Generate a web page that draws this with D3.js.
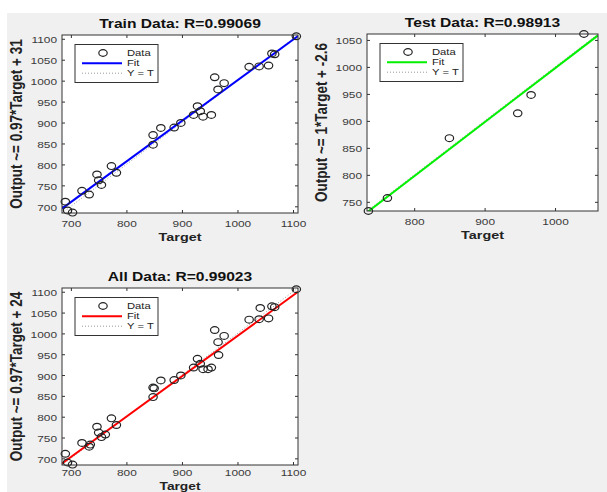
<!DOCTYPE html>
<html>
<head>
<meta charset="utf-8">
<script src="https://cdn.jsdelivr.net/npm/d3@7"></script>
<style>
  html, body { margin: 0; padding: 0; background: #ffffff; }
  svg { display: block; }
</style>
</head>
<body>
<svg id="chart" width="607" height="492"></svg>
<script>
// ---------------- data ----------------
const trainTarget = [690, 694, 703, 720, 733, 747, 750, 755, 773, 782, 848, 848, 862, 886, 898, 921, 928, 933, 938, 953, 959, 965, 976, 1021, 1039, 1056, 1062, 1067, 1106];
const trainOutput = [711, 690, 685, 737, 728, 776, 762, 751, 796, 780, 870, 847, 887, 888, 899, 918, 939, 927, 914, 918, 1008, 979, 994, 1033, 1034, 1036, 1065, 1063, 1106];
const testTarget = [735, 762, 850, 947, 966, 1041];
const testOutput = [733, 757, 868, 914, 948, 1061];
const allTarget = trainTarget.concat(testTarget);
const allOutput = trainOutput.concat(testOutput);

const trainFit = [0.97, 31];   // slope, intercept
const testFit = [1.0, -2.6];
const allFit = [0.97, 24];

const titles = ["Train Data: R=0.99069", "Test Data: R=0.98913", "All Data: R=0.99023"];
const yLabels = ["Output ~= 0.97*Target + 31", "Output ~= 1*Target + -2.6", "Output ~= 0.97*Target + 24"];
const xLabel = "Target";
const legendLabels = ["Data", "Fit", "Y = T"];

const ticksTrain = [700, 800, 900, 1000, 1100];
const ticksTrainY = [700, 750, 800, 850, 900, 950, 1000, 1050, 1100];
const ticksTest = [800, 900, 1000];
const ticksTestY = [750, 800, 850, 900, 950, 1000, 1050];

const domainTrain = [684, 1109];
const domainTest = [733, 1061];

// ---------------- drawing ----------------
const svg = d3.select("#chart");
const SX = 1.25; // horizontal stretch of the reference image text
const FONT = "'Liberation Sans', Arial, sans-serif";

svg.append("rect").attr("x", 7).attr("y", 13).attr("width", 600).attr("height", 479).attr("fill", "#f0f0f0");

function stretchText(sel, x, y, anchor) {
  sel.attr("x", null).attr("y", null)
     .attr("text-anchor", anchor)
     .attr("transform", `translate(${x},${y}) scale(${SX},1)`);
}

function panel(cfg) {
  const x = d3.scaleLinear().domain(cfg.domain).range([cfg.left, cfg.right]);
  const y = d3.scaleLinear().domain(cfg.domain).range([cfg.bottom, cfg.top]);
  const g = svg.append("g");

  g.append("rect")
    .attr("x", cfg.left).attr("y", cfg.top)
    .attr("width", cfg.right - cfg.left).attr("height", cfg.bottom - cfg.top)
    .attr("fill", "#ffffff");

  // axes
  const styleAxis = (ax) => {
    ax.select(".domain").remove();
    ax.selectAll(".tick line").attr("stroke", "#333").attr("stroke-width", 1);
  };
  const bx = g.append("g").attr("transform", `translate(0,${cfg.bottom})`)
    .call(d3.axisBottom(x).tickValues(cfg.ticksX).tickSize(-3).tickFormat(d3.format("d")));
  styleAxis(bx);
  bx.selectAll(".tick text").each(function () {
    const t = d3.select(this);
    t.attr("font-family", FONT).attr("font-size", 9.5).attr("fill", "#3a3a3a")
      .attr("dy", null);
    stretchText(t, 0, cfg.tickOff, "middle");
  });
  const lx = g.append("g").attr("transform", `translate(${cfg.left},0)`)
    .call(d3.axisLeft(y).tickValues(cfg.ticksY).tickSize(-3).tickFormat(d3.format("d")));
  styleAxis(lx);
  lx.selectAll(".tick text").each(function () {
    const t = d3.select(this);
    t.attr("font-family", FONT).attr("font-size", 9.5).attr("fill", "#3a3a3a")
      .attr("dy", null).attr("dominant-baseline", "central");
    stretchText(t, -5, 0.5, "end");
  });
  const tx = g.append("g").attr("transform", `translate(0,${cfg.top})`)
    .call(d3.axisTop(x).tickValues(cfg.ticksX).tickSize(-3).tickFormat(""));
  styleAxis(tx);
  const rx = g.append("g").attr("transform", `translate(${cfg.right},0)`)
    .call(d3.axisRight(y).tickValues(cfg.ticksY).tickSize(-3).tickFormat(""));
  styleAxis(rx);

  // clip
  const clipId = "clip" + cfg.id;
  svg.append("clipPath").attr("id", clipId).append("rect")
    .attr("x", cfg.left).attr("y", cfg.top)
    .attr("width", cfg.right - cfg.left).attr("height", cfg.bottom - cfg.top);
  const plot = g.append("g").attr("clip-path", `url(#${clipId})`);

  // Y = T line
  plot.append("line")
    .attr("x1", x(cfg.domain[0])).attr("y1", y(cfg.domain[0]))
    .attr("x2", x(cfg.domain[1])).attr("y2", y(cfg.domain[1]))
    .attr("stroke", "#999").attr("stroke-width", 1).attr("stroke-dasharray", "1,2");

  // fit line
  const f = v => cfg.fit[0] * v + cfg.fit[1];
  plot.append("line")
    .attr("x1", x(cfg.domain[0])).attr("y1", y(f(cfg.domain[0])))
    .attr("x2", x(cfg.domain[1])).attr("y2", y(f(cfg.domain[1])))
    .attr("stroke", cfg.color).attr("stroke-width", 2);

  // data
  const pts = cfg.t.map((d, i) => [d, cfg.o[i]]);
  g.append("g").selectAll("ellipse").data(pts).join("ellipse")
    .attr("cx", d => x(d[0])).attr("cy", d => y(d[1]))
    .attr("rx", 4.2).attr("ry", 3.4)
    .attr("fill", "none").attr("stroke", "#222").attr("stroke-width", 1.2);

  // box
  g.append("rect")
    .attr("x", cfg.left).attr("y", cfg.top)
    .attr("width", cfg.right - cfg.left).attr("height", cfg.bottom - cfg.top)
    .attr("fill", "none").attr("stroke", "#333").attr("stroke-width", 1);

  // legend
  const lgX = cfg.left + 13, lgY = cfg.top + 9.5;
  const lg = g.append("g");
  lg.append("rect").attr("x", lgX).attr("y", lgY).attr("width", 83).attr("height", 38)
    .attr("fill", "#fff").attr("stroke", "#333").attr("stroke-width", 1);
  lg.append("ellipse").attr("cx", lgX + 28).attr("cy", lgY + 8.5).attr("rx", 4.2).attr("ry", 3.4)
    .attr("fill", "none").attr("stroke", "#222").attr("stroke-width", 1.2);
  lg.append("line").attr("x1", lgX + 7).attr("x2", lgX + 47).attr("y1", lgY + 18.7).attr("y2", lgY + 18.7)
    .attr("stroke", cfg.color).attr("stroke-width", 2);
  lg.append("line").attr("x1", lgX + 7).attr("x2", lgX + 47).attr("y1", lgY + 28.7).attr("y2", lgY + 28.7)
    .attr("stroke", "#999").attr("stroke-width", 1).attr("stroke-dasharray", "1,2");
  legendLabels.forEach((lab, i) => {
    const t = lg.append("text").text(lab)
      .attr("font-family", FONT).attr("font-size", 9).attr("fill", "#222")
      .attr("dominant-baseline", "central");
    stretchText(t, lgX + 52, lgY + 8.7 + 10 * i, "start");
  });

  // title
  const cx = (cfg.left + cfg.right) / 2;
  const tt = g.append("text").text(cfg.title)
    .attr("font-family", FONT).attr("font-size", 12.5).attr("font-weight", "bold").attr("fill", "#111");
  stretchText(tt, cx, cfg.top - 7, "middle");

  // x label
  const xl = g.append("text").text(xLabel)
    .attr("font-family", FONT).attr("font-size", cfg.xlabSize).attr("font-weight", "bold").attr("fill", "#222");
  stretchText(xl, cx, cfg.xlabY, "middle");

  // y label
  const cy = (cfg.top + cfg.bottom) / 2;
  g.append("text").text(cfg.ylabel)
    .attr("font-family", FONT).attr("font-size", 13.5).attr("font-weight", "bold").attr("fill", "#222")
    .attr("text-anchor", "middle")
    .attr("transform", `translate(${cfg.ylabX},${cy}) scale(${SX * 0.95},1) rotate(-90)`);
}

panel({ id: 1, left: 62, right: 298, top: 35, bottom: 213, domain: domainTrain,
  ticksX: ticksTrain, ticksY: ticksTrainY, t: trainTarget, o: trainOutput, fit: trainFit,
  color: "#0000ff", title: titles[0], ylabel: yLabels[0], ylabX: 22,
  tickOff: 14, xlabY: 241, xlabSize: 11.5 });
panel({ id: 2, left: 367, right: 598, top: 34, bottom: 211, domain: domainTest,
  ticksX: ticksTest, ticksY: ticksTestY, t: testTarget, o: testOutput, fit: testFit,
  color: "#00f000", title: titles[1], ylabel: yLabels[1], ylabX: 327,
  tickOff: 14, xlabY: 239, xlabSize: 11.5 });
panel({ id: 3, left: 62, right: 298, top: 288, bottom: 465, domain: domainTrain,
  ticksX: ticksTrain, ticksY: ticksTrainY, t: allTarget, o: allOutput, fit: allFit,
  color: "#ff0000", title: titles[2], ylabel: yLabels[2], ylabX: 22,
  tickOff: 11, xlabY: 489.5, xlabSize: 11 });
</script>
</body>
</html>
